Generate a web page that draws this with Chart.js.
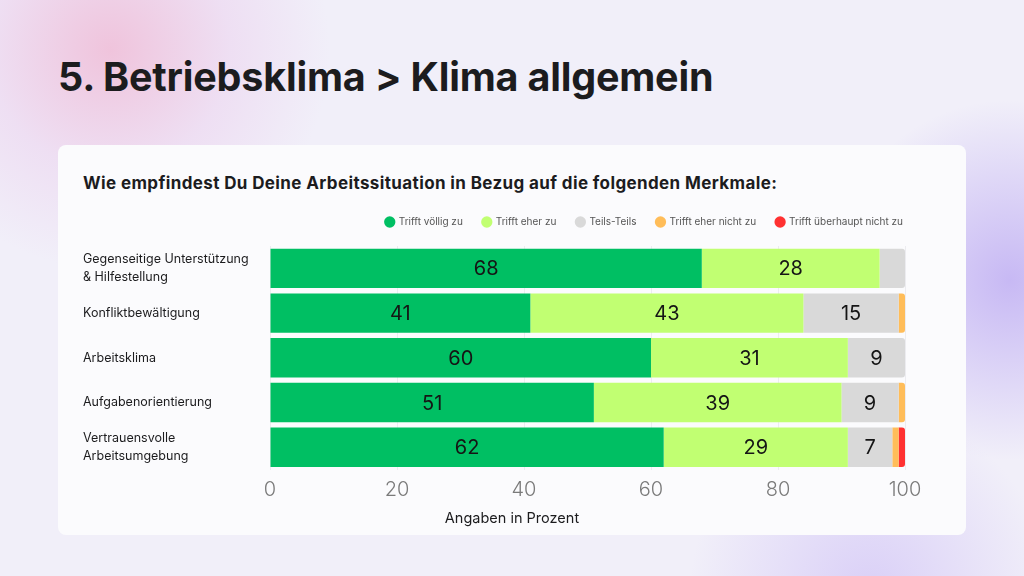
<!DOCTYPE html>
<html>
  <head>
    <meta charset="UTF-8" />
    <title>Betriebsklima - Klima allgemein</title>
    <script src="https://cdn.jsdelivr.net/npm/chart.js"></script>
    <style>
      html, body {
        margin: 0;
        padding: 0;
      }
      body {
        width: 1024px;
        height: 576px;
        overflow: hidden;
        position: relative;
        font-family: Inter, "Noto Sans", sans-serif;
        background:
          radial-gradient(circle at 110px 50px, rgba(238, 160, 196, 0.55) 0, rgba(230, 175, 225, 0.25) 120px, rgba(238, 160, 196, 0) 220px),
          radial-gradient(circle at 1010px 280px, rgba(165, 140, 240, 0.55) 0, rgba(165, 140, 240, 0) 180px),
          radial-gradient(circle at 870px 590px, rgba(190, 170, 245, 0.45) 0, rgba(190, 170, 245, 0) 180px),
          #f1eff9;
      }
      h1 {
        position: absolute;
        left: 58px;
        top: 53px;
        margin: 0;
        font-size: 39.5px;
        font-weight: 700;
        color: #1c1c1e;
        letter-spacing: -0.2px;
      }
      .card {
        position: absolute;
        left: 58px;
        top: 145px;
        width: 908px;
        height: 390px;
        background: #fbfbfd;
        border-radius: 8px;
      }
      .card h2 {
        position: absolute;
        left: 25px;
        top: 28px;
        margin: 0;
        font-size: 17px;
        font-weight: 700;
        letter-spacing: 0.38px;
        color: #1c1c1e;
      }
      .chart-box {
        position: absolute;
        left: 0;
        top: 60px;
        width: 908px;
        height: 325px;
      }
    </style>
  </head>
  <body>
    <h1>5. Betriebsklima &gt; Klima allgemein</h1>
    <div class="card">
      <h2>Wie empfindest Du Deine Arbeitssituation in Bezug auf die folgenden Merkmale:</h2>
      <div class="chart-box"><canvas id="klimaChart"></canvas></div>
    </div>

    <script>
      // Categories (multi-line labels as arrays)
      const categories = [
        ["Gegenseitige Unterstützung", "& Hilfestellung"],
        ["Konfliktbewältigung"],
        ["Arbeitsklima"],
        ["Aufgabenorientierung"],
        ["Vertrauensvolle", "Arbeitsumgebung"]
      ];

      // Series values in percent (null = not present)
      const trifftVoelligZu = [68, 41, 60, 51, 62];
      const trifftEherZu = [28, 43, 31, 39, 29];
      const teilsTeils = [4, 15, 9, 9, 7];
      const trifftEherNichtZu = [null, 1, null, 1, 1];
      const trifftUeberhauptNichtZu = [null, null, null, null, 1];

      const seriesNames = ["Trifft völlig zu", "Trifft eher zu", "Teils-Teils", "Trifft eher nicht zu", "Trifft überhaupt nicht zu"];
      const seriesColors = ["#00bf63", "#c1ff72", "#d9d9d9", "#ffbd59", "#ff3131"];
      const seriesValues = [trifftVoelligZu, trifftEherZu, teilsTeils, trifftEherNichtZu, trifftUeberhauptNichtZu];

      const xTicks = [0, 20, 40, 60, 80, 100];

      // Only the last drawn segment of each row gets rounded right corners.
      function lastSegmentIndex(row) {
        let last = 0;
        seriesValues.forEach((vals, i) => {
          if (vals[row]) last = i;
        });
        return last;
      }

      const datasets = seriesValues.map((vals, i) => ({
        label: seriesNames[i],
        data: vals,
        backgroundColor: seriesColors[i],
        borderWidth: 0,
        borderSkipped: false,
        borderRadius: ctx => {
          if (ctx.type !== "data") return 0;
          return lastSegmentIndex(ctx.dataIndex) === i
            ? { topLeft: 0, bottomLeft: 0, topRight: 3, bottomRight: 3 }
            : 0;
        },
        barPercentage: 0.88,
        categoryPercentage: 1
      }));

      // Draw the value inside each segment that is wide enough.
      const valueLabels = {
        id: "valueLabels",
        afterDatasetsDraw(chart) {
          const ctx = chart.ctx;
          ctx.save();
          ctx.font = "20px Inter, 'Noto Sans', sans-serif";
          ctx.fillStyle = "#151515";
          ctx.textAlign = "center";
          ctx.textBaseline = "middle";
          chart.data.datasets.forEach((ds, di) => {
            const meta = chart.getDatasetMeta(di);
            meta.data.forEach((bar, idx) => {
              const v = ds.data[idx];
              if (v == null || v < 5) return;
              const c = bar.getCenterPoint();
              ctx.fillText(String(v), c.x, c.y + 1);
            });
          });
          ctx.restore();
        }
      };

      // Adjust the legend box height, and nudge legend + axis title into place.
      const legendSpacing = {
        id: "legendSpacing",
        beforeInit(chart) {
          const origFit = chart.legend.fit;
          chart.legend.fit = function () {
            origFit.bind(chart.legend)();
            this.height += 1;
          };
        },
        afterLayout(chart) {
          chart.legend.left += 18;
          chart.legend.right += 18;
          chart.legend.top -= 8;
          chart.legend.bottom -= 8;
          chart.titleBlock.left += 18;
          chart.titleBlock.right += 18;
        }
      };

      const ctx = document.getElementById("klimaChart").getContext("2d");
      new Chart(ctx, {
        type: "bar",
        data: {
          labels: categories,
          datasets: datasets
        },
        plugins: [legendSpacing, valueLabels],
        options: {
          indexAxis: "y",
          responsive: true,
          maintainAspectRatio: false,
          animation: false,
          layout: {
            padding: { left: 25, right: 61, top: 0, bottom: 0 }
          },
          plugins: {
            legend: {
              position: "top",
              align: "end",
              labels: {
                usePointStyle: true,
                pointStyle: "circle",
                boxWidth: 8,
                boxHeight: 8,
                padding: 20,
                color: "#555",
                font: { family: "Inter, 'Noto Sans', sans-serif", size: 10 }
              }
            },
            title: {
              display: true,
              position: "bottom",
              text: "Angaben in Prozent",
              color: "#1c1c1e",
              font: { family: "Inter, 'Noto Sans', sans-serif", size: 14.5, weight: "normal" },
              padding: { top: 0, bottom: 3 }
            },
            tooltip: { enabled: false }
          },
          scales: {
            x: {
              stacked: true,
              min: 0,
              max: 100,
              afterBuildTicks: scale => {
                scale.ticks = xTicks.map(v => ({ value: v }));
              },
              grid: { color: "#ececf0", drawTicks: false },
              border: { display: false },
              ticks: {
                padding: 8,
                color: "#7a7a7a",
                font: { family: "Inter, 'Noto Sans', sans-serif", size: 20, weight: "300" }
              }
            },
            y: {
              stacked: true,
              grid: { display: false },
              border: { display: false },
              afterFit: scale => {
                scale.width = 187;
              },
              ticks: {
                crossAlign: "far",
                color: "#1c1c1e",
                font: { family: "Inter, 'Noto Sans', sans-serif", size: 12.5, lineHeight: 1.4 }
              }
            }
          }
        }
      });
    </script>
  </body>
</html>
